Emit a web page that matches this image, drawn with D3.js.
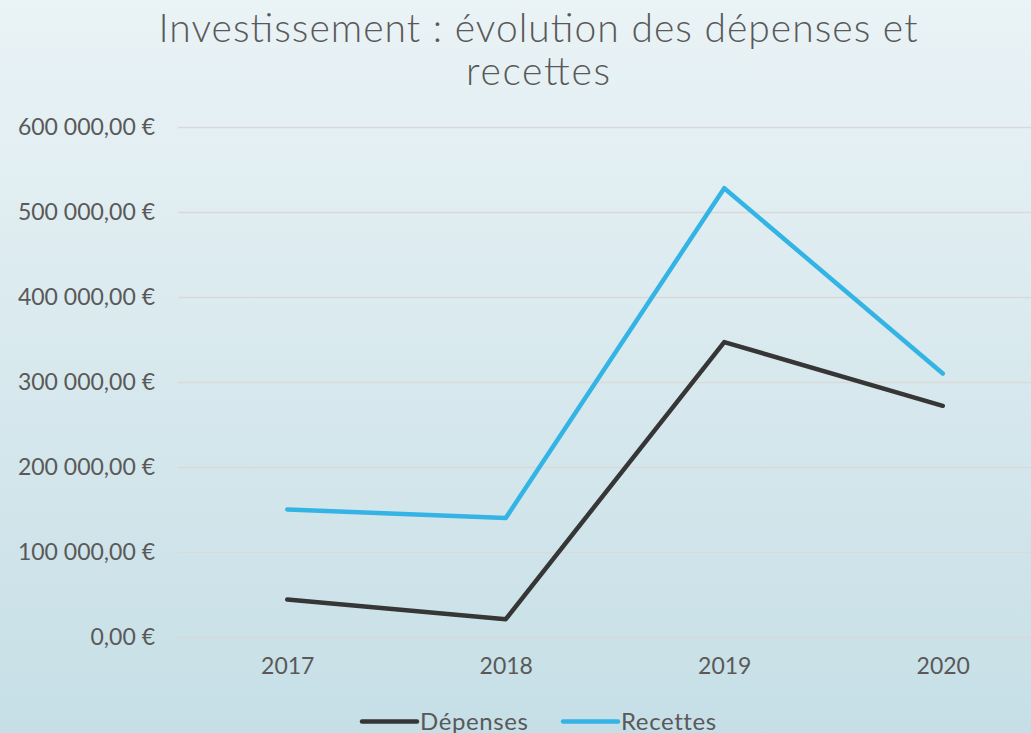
<!DOCTYPE html>
<html>
<head>
<meta charset="utf-8">
<script src="https://cdn.jsdelivr.net/npm/d3@7"></script>
<style>
  html, body { margin: 0; padding: 0; overflow: hidden; }
  body { width: 1031px; height: 733px; }
  svg { display: block; font-family: 'Lato', 'DejaVu Sans', sans-serif; }
</style>
</head>
<body>
<div id="app"></div>
<script>
// Chart data.
const years = ['2017', '2018', '2019', '2020'];
const depenses = [44000, 21000, 347000, 272000];
const recettes = [150000, 140000, 528000, 310000];
const yTicks = [0, 100000, 200000, 300000, 400000, 500000, 600000];
const titleLines = ['Investissement : évolution des dépenses et', 'recettes'];
const seriesNames = ['Dépenses', 'Recettes'];

const svgWidth = 1031;
const svgHeight = 733;
// plot runs a little past the right edge, as in the reference
const margin = { top: 127, right: -21, bottom: 96, left: 178 };
const width = svgWidth - margin.left - margin.right;
const height = svgHeight - margin.top - margin.bottom;

const fr = d3.formatLocale({
  decimal: ',',
  thousands: '\u00a0',
  grouping: [3],
  currency: ['', '\u00a0€']
});
const euro = fr.format('$,.2f');

const svg = d3.select('#app')
  .append('svg')
  .attr('width', svgWidth)
  .attr('height', svgHeight);

const defs = svg.append('defs');
const grad = defs.append('linearGradient')
  .attr('id', 'bg')
  .attr('x1', 0).attr('y1', 0).attr('x2', 0).attr('y2', 1);
grad.append('stop').attr('offset', '0%').attr('stop-color', '#eaf3f6');
grad.append('stop').attr('offset', '100%').attr('stop-color', '#c6dfe6');

svg.append('rect')
  .attr('width', svgWidth)
  .attr('height', svgHeight)
  .attr('fill', 'url(#bg)');

// title, two lines (widths matched to the reference wrap)
const titleWidths = [759, 144];
svg.append('g')
  .selectAll('text')
  .data(titleLines)
  .join('text')
  .attr('x', 538)
  .attr('y', (_, i) => 42 + i * 43)
  .attr('text-anchor', 'middle')
  .attr('fill', '#595959')
  .attr('font-size', 39)
  .attr('font-weight', 300)
  .attr('textLength', (_, i) => titleWidths[i])
  .attr('lengthAdjust', 'spacing')
  .text((d) => d);

const chart = svg.append('g')
  .attr('transform', `translate(${margin.left},${margin.top})`);

const x = d3.scalePoint()
  .domain(years)
  .range([0, width])
  .padding(0.5);

const y = d3.scaleLinear()
  .domain([0, 600000])
  .range([height, 0]);

// gridlines + y labels
const yAxis = chart.append('g')
  .call(d3.axisLeft(y).tickValues(yTicks).tickFormat(euro).tickSize(-width).tickPadding(23))
  .attr('font-family', null)
  .attr('font-size', 23);
yAxis.select('.domain').remove();
yAxis.selectAll('.tick line').attr('stroke', '#d9d9d9').attr('stroke-width', 1.5);
yAxis.selectAll('.tick text').attr('fill', '#595959');

const xAxis = chart.append('g')
  .attr('transform', `translate(0,${height})`)
  .call(d3.axisBottom(x).tickSize(0).tickPadding(21))
  .attr('font-family', null)
  .attr('font-size', 23);
xAxis.select('.domain').remove();
xAxis.selectAll('.tick text').attr('fill', '#595959');

const series = [
  { name: seriesNames[0], values: depenses, color: '#363636' },
  { name: seriesNames[1], values: recettes, color: '#34b4e4' }
];

const line = d3.line()
  .x((_, i) => x(years[i]))
  .y((d) => y(d));

chart.append('g')
  .selectAll('path')
  .data(series)
  .join('path')
  .attr('d', (d) => line(d.values))
  .attr('fill', 'none')
  .attr('stroke', (d) => d.color)
  .attr('stroke-width', 4.5)
  .attr('stroke-linecap', 'round')
  .attr('stroke-linejoin', 'round');

// legend
const legend = svg.append('g')
  .attr('transform', 'translate(362,721.5)');
const legendItems = legend.selectAll('g')
  .data(series)
  .join('g')
  .attr('transform', (_, i) => `translate(${i * 201},0)`);
legendItems.append('line')
  .attr('x1', 0).attr('x2', 55)
  .attr('stroke', (d) => d.color)
  .attr('stroke-width', 4.5)
  .attr('stroke-linecap', 'round');
legendItems.append('text')
  .attr('x', 58)
  .attr('y', 8)
  .attr('fill', '#595959')
  .attr('font-size', 24)
  .attr('letter-spacing', 0.6)
  .text((d) => d.name);
</script>
</body>
</html>
